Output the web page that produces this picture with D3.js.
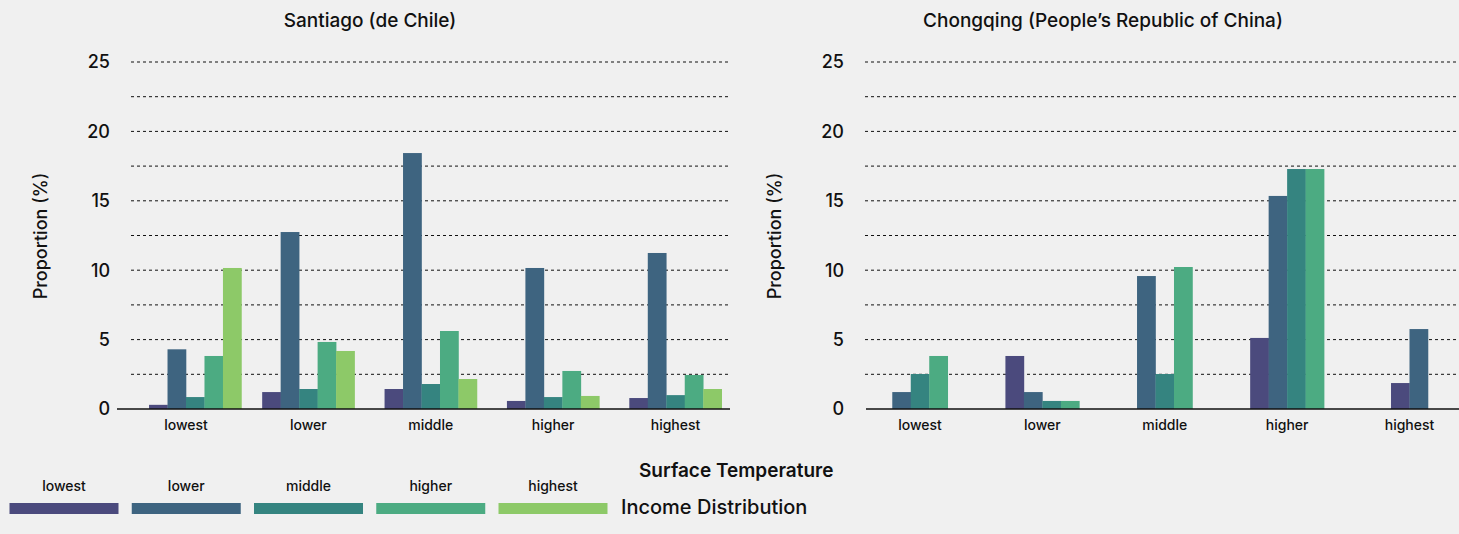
<!DOCTYPE html>
<html>
<head>
<meta charset="utf-8">
<script src="https://cdn.jsdelivr.net/npm/d3@7"></script>
<style>
  html, body { margin: 0; padding: 0; background: #f0f0f0; }
  svg { display: block; font-family: Inter, "Noto Sans", sans-serif; }
</style>
</head>
<body>
<svg id="chart" width="1459" height="534"></svg>
<script>
// ---- data ----
const tempCategories = ["lowest", "lower", "middle", "higher", "highest"];
const incomeLevels = ["lowest", "lower", "middle", "higher", "highest"];
const incomeColors = ["#4b4a7d", "#3e6480", "#358480", "#4cab82", "#8dc968"];
const yTicks = [0, 5, 10, 15, 20, 25];
const gridValues = [2.5, 5, 7.5, 10, 12.5, 15, 17.5, 20, 22.5, 25];

// rows: surface temperature category; columns: income level (null = no bar)
const santiagoValues = [
  [0.3, 4.3, 0.86, 3.82, 10.16],
  [1.22, 12.75, 1.44, 4.83, 4.18],
  [1.44, 18.44, 1.8, 5.62, 2.16],
  [0.58, 10.16, 0.86, 2.74, 0.94],
  [0.79, 11.24, 1.0, 2.45, 1.44]
];
const chongqingValues = [
  [null, 1.22, 2.52, 3.82, null],
  [3.82, 1.22, 0.58, 0.58, null],
  [null, 9.58, 2.52, 10.23, null],
  [5.12, 15.35, 17.29, 17.29, null],
  [1.87, 5.76, null, null, null]
];

const panels = [
  { title: "Santiago (de Chile)", values: santiagoValues, x0: 131, x1: 730, base0: 117, titleX: 370, ylabX: 41, tickX: 110 },
  { title: "Chongqing (People\u2019s Republic of China)", values: chongqingValues, x0: 865, x1: 1459, base0: 866, titleX: 1103, ylabX: 775, tickX: 844 }
];

const svg = d3.select("#chart");
const y = d3.scaleLinear().domain([0, 25]).range([409, 62]);
const color = d3.scaleOrdinal().domain(incomeLevels).range(incomeColors);

panels.forEach(p => {
  const g = svg.append("g");
  const x = d3.scalePoint().domain(tempCategories).range([p.x0 + 55, p.x0 + 544.5]);
  const bw = x.step() * 0.151;

  // grid
  g.selectAll("line.grid").data(gridValues).join("line")
    .attr("x1", p.x0).attr("x2", p.x1)
    .attr("y1", d => y(d)).attr("y2", d => y(d))
    .attr("stroke", "#111").attr("stroke-width", 1)
    .attr("stroke-dasharray", "3,3");

  // y tick labels
  g.selectAll("text.ytick").data(yTicks).join("text")
    .attr("x", p.tickX).attr("y", d => y(d))
    .attr("dy", "0.36em")
    .attr("text-anchor", "end")
    .attr("font-size", 18).attr("font-weight", 500).attr("fill", "#111")
    .text(d => d);

  // bars
  p.values.forEach((row, i) => {
    const cx = x(tempCategories[i]);
    const present = row.map((v, j) => ({ v, j })).filter(d => d.v != null && d.v > 0);
    const n = row.filter(v => v != null && Math.round(v) > 0).length;
    const start = cx - n * bw / 2;
    g.selectAll(null).data(present).join("rect")
      .attr("x", (d, k) => start + k * bw)
      .attr("width", bw + 0.3)
      .attr("y", d => y(d.v))
      .attr("height", d => y(0) - y(d.v))
      .attr("fill", d => color(incomeLevels[d.j]));
  });

  // baseline
  g.append("line")
    .attr("x1", p.base0).attr("x2", p.x1)
    .attr("y1", y(0)).attr("y2", y(0))
    .attr("stroke", "#111").attr("stroke-width", 1.5);

  // x labels
  g.selectAll("text.xl").data(tempCategories).join("text")
    .attr("x", d => x(d)).attr("y", 430)
    .attr("text-anchor", "middle")
    .attr("font-size", 14).attr("font-weight", 500).attr("fill", "#111")
    .text(d => d);

  // title
  g.append("text").attr("x", p.titleX).attr("y", 27)
    .attr("text-anchor", "middle")
    .attr("font-size", 19).attr("font-weight", 500).attr("fill", "#111")
    .text(p.title);

  // y axis label
  g.append("text")
    .attr("transform", `translate(${p.ylabX + 6},${236}) rotate(-90)`)
    .attr("text-anchor", "middle")
    .attr("font-size", 18).attr("font-weight", 500).attr("fill", "#111")
    .text("Proportion (%)");
});

// legend
const lx = d3.scalePoint().domain(incomeLevels).range([64, 553]);
const lg = svg.append("g");
lg.selectAll("rect").data(incomeLevels).join("rect")
  .attr("x", d => lx(d) - 54.5).attr("width", 109)
  .attr("y", 503).attr("height", 11)
  .attr("fill", d => color(d));
lg.selectAll("text").data(incomeLevels).join("text")
  .attr("x", d => lx(d)).attr("y", 491)
  .attr("text-anchor", "middle")
  .attr("font-size", 14).attr("font-weight", 500).attr("fill", "#111")
  .text(d => d);
svg.append("text").attr("x", 639).attr("y", 477)
  .attr("font-size", 19).attr("font-weight", 600).attr("fill", "#111")
  .text("Surface Temperature");
svg.append("text").attr("x", 621).attr("y", 514)
  .attr("font-size", 20).attr("font-weight", 500).attr("fill", "#111")
  .text("Income Distribution");
</script>
</body>
</html>
